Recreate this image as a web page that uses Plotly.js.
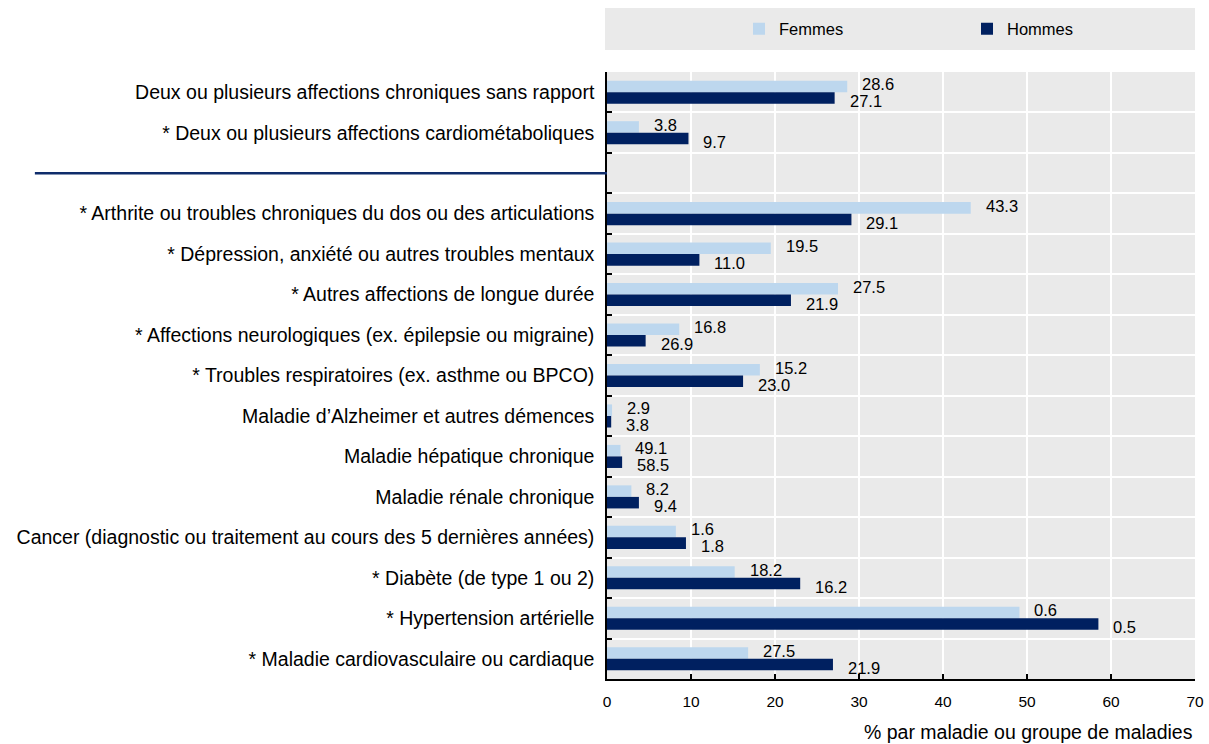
<!DOCTYPE html>
<html>
<head>
<meta charset="utf-8">
<script src="https://cdn.plot.ly/plotly-3.0.1.min.js"></script>
<style>
  html, body { margin: 0; padding: 0; background: #ffffff; }
  #chart { width: 1209px; height: 744px; }
</style>
</head>
<body>
<div id="chart"></div>
<script>
// Categories, top to bottom (" " is the empty separator row)
const categories = [
  "Deux ou plusieurs affections chroniques sans rapport",
  "* Deux ou plusieurs affections cardiométaboliques",
  " ",
  "* Arthrite ou troubles chroniques du dos ou des articulations",
  "* Dépression, anxiété ou autres troubles mentaux",
  "* Autres affections de longue durée",
  "* Affections neurologiques (ex. épilepsie ou migraine)",
  "* Troubles respiratoires (ex. asthme ou BPCO)",
  "Maladie d’Alzheimer et autres démences",
  "Maladie hépatique chronique",
  "Maladie rénale chronique",
  "Cancer (diagnostic ou traitement au cours des 5 dernières années)",
  "* Diabète (de type 1 ou 2)",
  "* Hypertension artérielle",
  "* Maladie cardiovasculaire ou cardiaque"
];

// Bar lengths as drawn
const femmesValues = [28.6, 3.8, null, 43.3, 19.5, 27.5, 8.6, 18.2, 0.6, 1.6, 2.9, 8.2, 15.2, 49.1, 16.8];
const hommesValues = [27.1, 9.7, null, 29.1, 11.0, 21.9, 4.6, 16.2, 0.5, 1.8, 3.8, 9.4, 23.0, 58.5, 26.9];

// Data labels as printed in the chart
const femmesLabels = ["28.6", "3.8", "", "43.3", "19.5", "27.5", "16.8", "15.2", "2.9", "49.1", "8.2", "1.6", "18.2", "0.6", "27.5"];
const hommesLabels = ["27.1", "9.7", "", "29.1", "11.0", "21.9", "26.9", "23.0", "3.8", "58.5", "9.4", "1.8", "16.2", "0.5", "21.9"];

const seriesNames = ["Femmes", "Hommes"];
const xTickValues = [0, 10, 20, 30, 40, 50, 60, 70];
const xAxisLabel = "% par maladie ou groupe de maladies";

const FONT = '"Liberation Sans", Arial, sans-serif';
const colF = "#bdd7ee";
const colH = "#002060";

const traces = [
  {
    type: "bar", orientation: "h", name: seriesNames[0],
    y: categories, x: femmesValues,
    marker: { color: colF },
    hoverinfo: "x+y"
  },
  {
    type: "bar", orientation: "h", name: seriesNames[1],
    y: categories, x: hommesValues,
    marker: { color: colH },
    hoverinfo: "x+y"
  }
];

const annotations = [];
function addLabels(values, labels, yshift) {
  values.forEach((v, i) => {
    if (v === null || !labels[i]) return;
    annotations.push({
      x: v, y: categories[i], xref: "x", yref: "y",
      text: labels[i], showarrow: false,
      xanchor: "left", yanchor: "middle",
      xshift: 13, yshift: yshift,
      font: { family: FONT, size: 16.5, color: "#000000" }
    });
  });
}
addLabels(femmesValues, femmesLabels, 8);
addLabels(hommesValues, hommesLabels, -9);

annotations.push({
  xref: "paper", yref: "paper", x: 1.0, y: -0.088,
  xanchor: "right", yanchor: "middle",
  text: xAxisLabel, showarrow: false,
  font: { family: FONT, size: 19.5, color: "#000000" }
});

const layout = {
  width: 1209, height: 744,
  margin: { l: 607, r: 14, t: 72, b: 65, pad: 0, autoexpand: false },
  paper_bgcolor: "#ffffff",
  plot_bgcolor: "#eaeaea",
  font: { family: FONT, color: "#000000" },
  barmode: "group",
  bargap: 0.43,
  bargroupgap: 0,
  showlegend: true,
  legend: {
    orientation: "h",
    x: 0.2245, xanchor: "left",
    y: 1.0707, yanchor: "middle",
    bgcolor: "rgba(0,0,0,0)",
    font: { family: FONT, size: 16.5, color: "#000000" },
    entrywidth: 183, entrywidthmode: "pixels",
    traceorder: "normal"
  },
  xaxis: {
    range: [0, 70],
    tickvals: xTickValues,
    ticktext: xTickValues.map(String),
    ticks: "inside", ticklen: 5, tickwidth: 1.5, tickcolor: "#000000",
    showline: true, linecolor: "#000000", linewidth: 1.5,
    showgrid: true, gridcolor: "#ffffff", gridwidth: 2,
    zeroline: false,
    ticklabelstandoff: 8,
    tickfont: { family: FONT, size: 15.5, color: "#000000" },
    fixedrange: true
  },
  yaxis: {
    type: "category",
    categoryorder: "array",
    categoryarray: categories,
    autorange: "reversed",
    tickson: "boundaries",
    ticks: "inside", ticklen: 5, tickwidth: 1.5, tickcolor: "#000000",
    showline: true, linecolor: "#000000", linewidth: 1.5,
    showgrid: true, gridcolor: "#ffffff", gridwidth: 2,
    zeroline: false,
    ticklabelstandoff: 7,
    tickfont: { family: FONT, size: 19.5, color: "#000000" },
    fixedrange: true
  },
  shapes: [
    {
      type: "rect", xref: "paper", yref: "paper",
      x0: -0.0034, x1: 1.0, y0: 1.0362, y1: 1.1054,
      fillcolor: "#eaeaea", line: { width: 0 }, layer: "below"
    },
    {
      type: "line", xref: "paper", yref: "y",
      x0: -0.973, x1: 0, y0: " ", y1: " ",
      line: { color: "#0f2c6b", width: 2.5 }
    }
  ],
  annotations: annotations
};

Plotly.newPlot("chart", traces, layout, { displayModeBar: false, staticPlot: false });
</script>
</body>
</html>
